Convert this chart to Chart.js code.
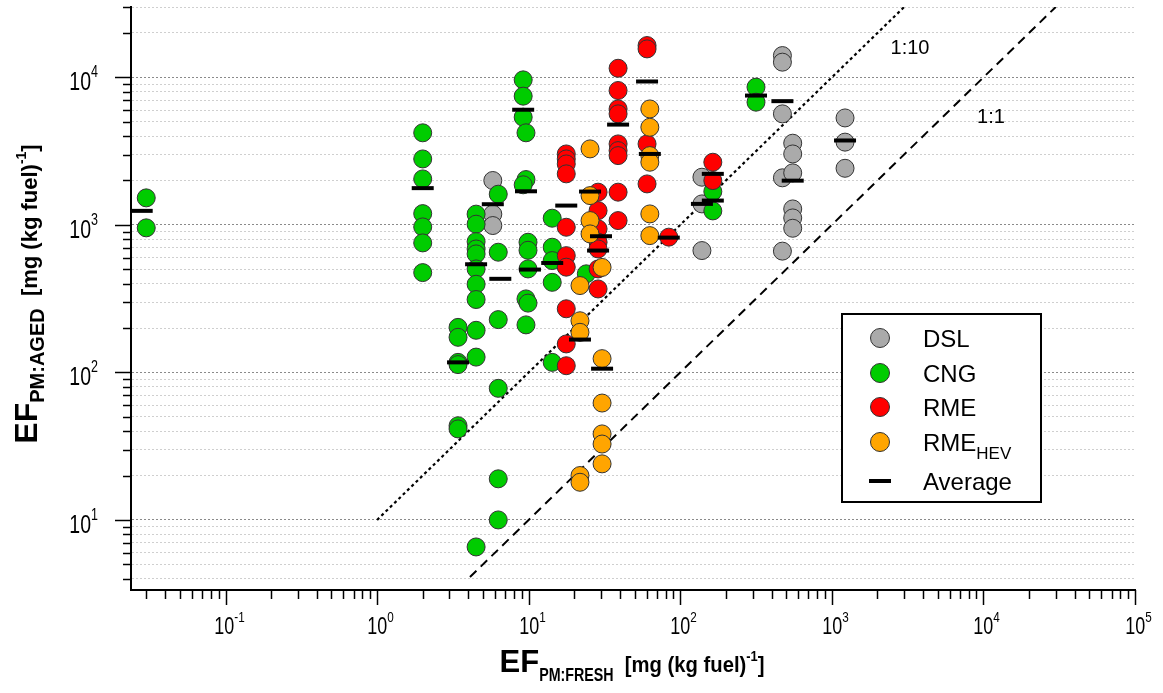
<!DOCTYPE html>
<html lang="en">
<head>
  <meta charset="UTF-8">
  <title>EF PM aged vs fresh</title>
  <script src="https://cdn.jsdelivr.net/npm/chart.js"></script>
  <style>
    body { margin: 0; background: #fff; }
    #wrap { width: 1163px; height: 693px; }
  </style>
</head>
<body>
  <div id="wrap"><canvas id="efChart" width="1163" height="693"></canvas></div>

  <script>
    // EF fresh (x) / EF aged (y), mg (kg fuel)^-1
    const dslFresh = [5.8, 5.8, 5.8, 139, 139, 139, 472, 472, 472, 472, 472, 552, 552, 552, 552, 552, 552, 1222, 1222, 1222];
    const dslAged  = [2000, 1183, 990, 2105, 1388, 670, 14060, 12680, 5660, 2085, 664, 3580, 3027, 2253, 1283, 1115, 949, 5310, 3640, 2420];

    const cngFresh = [0.03, 0.03,
      2, 2, 2, 2, 2, 2, 2,
      3.42, 3.42, 3.42, 3.42, 3.42, 3.42,
      4.5, 4.5, 4.5, 4.5, 4.5, 4.5, 4.5, 4.5, 4.5, 4.5, 4.5,
      6.3, 6.3, 6.3, 6.3, 6.3, 6.3,
      9.2, 9.2, 9.2, 9.6, 9.6, 9.2, 9.9, 9.9, 9.9, 9.6, 9.9, 9.6,
      14.3, 14.3, 14.3, 14.3, 14.3,
      24, 164, 164, 316, 316];
    const cngAged = [1525, 955,
      4210, 2800, 2050, 1193, 969, 755, 475,
      202, 173, 117, 113, 43.5, 41.4,
      1183, 1011, 770, 687, 636, 503, 396, 312, 193, 127, 6.56,
      1615, 653, 228, 78, 19, 10,
      9620, 7460, 5370, 4210, 2030, 1870, 763, 673, 503, 315, 295, 210,
      1110, 706, 573, 408, 117,
      466, 1683, 1244, 8590, 6790];

    const rmeFresh = [17.7, 17.7, 17.7, 17.7, 17.7, 17.7, 17.7, 17.7, 17.7, 17.7,
      28.7, 28.7, 28.7, 28.7, 28.7, 28.7, 28.7,
      38.9, 38.9, 38.9, 38.9, 38.9, 38.9, 38.9, 38.9, 38.9,
      60.4, 60.4, 60.4, 60.4, 84, 164, 164];
    const rmeAged = [3027, 2800, 2590, 2218, 964, 619, 517, 270, 156, 111,
      1667, 1250, 940, 763, 687, 503, 368,
      11530, 8150, 6110, 5660, 3540, 3190, 2950, 1667, 1070,
      16440, 15600, 3540, 1896, 826, 2660, 1997];

    const hevFresh = [25.4, 25.4, 25.4, 25.4, 21.8, 21.8, 21.8, 21.8, 21.8,
      30.5, 30.5, 30.5, 30.5, 30.5, 30.5, 63, 63, 63, 63, 63, 63];
    const hevAged = [3275, 1580, 1070, 869, 388, 224, 187, 20, 18,
      515, 124, 62, 38.3, 32.7, 24, 6110, 4590, 2950, 2660, 1187, 846];

    const avgFresh = [0.028, 2, 3.42, 4.5, 5.8, 6.5, 9.2, 9.6, 10.2, 14.3, 17.7, 25.4, 21.8, 28.7, 30, 30.5, 38.9, 60.4, 63, 84, 139, 164, 164, 316, 472, 552, 1222];
    const avgAged  = [1245, 1775, 117, 541, 1381, 431, 6035, 1690, 498, 552, 1352, 1683, 167, 670, 838, 106, 4786, 9380, 3027, 820, 1388, 1462, 2218, 7530, 6900, 1995, 3735];

    // reference lines and their labels
    const line10Fresh = [1, 3000], line10Aged = [10, 30000];
    const line1Fresh = [4.1, 30000], line1Aged = [4.1, 30000];
    const refLabels = [{ text: '1:10', x: 3280, y: 15600 }, { text: '1:1', x: 11220, y: 5310 }];

    const xTickValues = [];
    for (let e = -2; e <= 5; e++) for (let m = 1; m <= 9; m++) {
      const v = m * Math.pow(10, e);
      if (v >= 0.025 && v <= 1e5 * 1.0001) xTickValues.push(+v.toPrecision(3));
    }
    const yTickValues = [];
    for (let e = 0; e <= 4; e++) for (let m = 1; m <= 9; m++) {
      const v = m * Math.pow(10, e);
      if (v >= 3.4 && v <= 30000) yTickValues.push(v);
    }

    const isPow10 = v => Math.abs(Math.log10(v) - Math.round(Math.log10(v))) < 1e-9;
    const zip = (xs, ys) => xs.map((x, i) => ({ x, y: ys[i] }));

    const grey = '#aaaaaa', green = '#00cc00', red = '#ff0000', orange = '#ffa500';

    function pointSet(label, xs, ys, color, order) {
      return {
        label, data: zip(xs, ys), order,
        pointRadius: 9, pointBackgroundColor: color,
        pointBorderColor: '#333', pointBorderWidth: 1
      };
    }

    // draw a sequence of text runs (with sub/superscripts)
    function drawRuns(ctx, runs, x, y, align) {
      let total = 0;
      runs.forEach(r => { ctx.font = r.font; r.w = ctx.measureText(r.text).width * (r.sx || 1); total += r.w; });
      let cx = align === 'center' ? x - total / 2 : align === 'right' ? x - total : x;
      runs.forEach(r => {
        ctx.save();
        ctx.font = r.font;
        ctx.translate(cx, y + (r.dy || 0));
        ctx.scale(r.sx || 1, 1);
        ctx.fillText(r.text, 0, 0);
        ctx.restore();
        cx += r.w;
      });
    }

    const FONT = '"Liberation Sans", Arial, sans-serif';

    const overlay = {
      id: 'overlay',
      afterDraw(chart) {
        const { ctx, chartArea: a, scales: { x, y } } = chart;
        ctx.save();
        ctx.strokeStyle = '#000';
        ctx.fillStyle = '#000';
        ctx.lineWidth = 1.5;
        ctx.textBaseline = 'alphabetic';

        // x ticks and labels
        x.ticks.forEach(t => {
          const px = Math.round(x.getPixelForValue(t.value)) + 0.5;
          ctx.beginPath();
          ctx.moveTo(px, a.bottom);
          ctx.lineTo(px, a.bottom + (t.major ? 15 : 9));
          ctx.stroke();
          if (t.major) {
            const e = Math.round(Math.log10(t.value));
            drawRuns(ctx, [
              { text: '10', font: '23px ' + FONT, sx: 0.78 },
              { text: String(e), font: '15px ' + FONT, sx: 0.78, dy: -12 }
            ], px + 3, a.bottom + 44, 'center');
          }
        });

        // y ticks and labels
        y.ticks.forEach(t => {
          const py = Math.round(y.getPixelForValue(t.value)) + 0.5;
          ctx.beginPath();
          ctx.moveTo(a.left, py);
          ctx.lineTo(a.left - (t.major ? 16 : 8), py);
          ctx.stroke();
          if (t.major) {
            const e = Math.round(Math.log10(t.value));
            drawRuns(ctx, [
              { text: '10', font: '25px ' + FONT, sx: 0.78 },
              { text: String(e), font: '16px ' + FONT, sx: 0.78, dy: -13 }
            ], a.left - 33, py + 12, 'right');
          }
        });

        // reference line labels
        ctx.font = '20px ' + FONT;
        ctx.textAlign = 'center';
        ctx.textBaseline = 'middle';
        refLabels.forEach(l => ctx.fillText(l.text, x.getPixelForValue(l.x), y.getPixelForValue(l.y)));
        ctx.textAlign = 'left';
        ctx.textBaseline = 'alphabetic';

        // axis titles
        drawRuns(ctx, [
          { text: 'EF', font: 'bold 31px ' + FONT },
          { text: 'PM:FRESH', font: 'bold 19px ' + FONT, dy: 9, sx: 0.75 },
          { text: '  [mg (kg fuel)', font: 'bold 22px ' + FONT, sx: 0.92 },
          { text: '-1', font: 'bold 14px ' + FONT, dy: -11, sx: 0.92 },
          { text: ']', font: 'bold 22px ' + FONT, sx: 0.92 }
        ], 632, 672, 'center');

        ctx.save();
        ctx.translate(37, 294);
        ctx.rotate(-Math.PI / 2);
        drawRuns(ctx, [
          { text: 'EF', font: 'bold 32px ' + FONT },
          { text: 'PM:AGED', font: 'bold 20px ' + FONT, dy: 7 },
          { text: '  [mg (kg fuel)', font: 'bold 22px ' + FONT },
          { text: '-1', font: 'bold 14px ' + FONT, dy: -11 },
          { text: ']', font: 'bold 22px ' + FONT }
        ], 0, 0, 'center');
        ctx.restore();

        // legend
        ctx.fillStyle = '#fff';
        ctx.fillRect(842, 314, 199, 188);
        ctx.lineWidth = 2;
        ctx.strokeRect(842, 314, 199, 188);
        const items = [['DSL', grey], ['CNG', green], ['RME', red], ['RME', orange, 'HEV'], ['Average', null]];
        const rows = [338, 373, 407, 442, 481];
        items.forEach((it, i) => {
          const cy = rows[i];
          if (it[1]) {
            ctx.beginPath();
            ctx.arc(880, cy, 9.5, 0, Math.PI * 2);
            ctx.fillStyle = it[1];
            ctx.fill();
            ctx.lineWidth = 1;
            ctx.strokeStyle = '#333';
            ctx.stroke();
          } else {
            ctx.lineWidth = 4;
            ctx.strokeStyle = '#000';
            ctx.beginPath();
            ctx.moveTo(869, cy); ctx.lineTo(891, cy);
            ctx.stroke();
          }
          ctx.fillStyle = '#000';
          const runs = [{ text: it[0], font: '24px ' + FONT }];
          if (it[2]) runs.push({ text: it[2], font: '17px ' + FONT, dy: 8 });
          drawRuns(ctx, runs, 923, cy + 9, 'left');
        });
        ctx.restore();
      }
    };

    new Chart(document.getElementById('efChart').getContext('2d'), {
      type: 'scatter',
      data: {
        datasets: [
          {
            label: 'Average', data: zip(avgFresh, avgAged), order: 0,
            pointStyle: 'line', pointRadius: 11, pointBorderWidth: 4, pointBorderColor: '#000'
          },
          pointSet('RMEHEV', hevFresh, hevAged, orange, 1),
          pointSet('RME', rmeFresh, rmeAged, red, 2),
          pointSet('CNG', cngFresh, cngAged, green, 3),
          pointSet('DSL', dslFresh, dslAged, grey, 4),
          {
            label: '1:10', data: zip(line10Fresh, line10Aged), order: 5, showLine: true,
            pointRadius: 0, borderColor: '#000', borderWidth: 2.2, borderDash: [3, 3]
          },
          {
            label: '1:1', data: zip(line1Fresh, line1Aged), order: 5, showLine: true,
            pointRadius: 0, borderColor: '#000', borderWidth: 2, borderDash: [9, 6]
          }
        ]
      },
      options: {
        responsive: false,
        animation: false,
        layout: { autoPadding: false, padding: { left: 131, top: 7, right: 28, bottom: 103 } },
        plugins: { legend: { display: false }, tooltip: { enabled: false } },
        scales: {
          x: {
            type: 'logarithmic', min: 0.0238, max: 100000,
            afterBuildTicks: s => { s.ticks = xTickValues.map(v => ({ value: v, major: isPow10(v) })); },
            ticks: { display: false },
            grid: { drawOnChartArea: false, drawTicks: false },
            border: { color: '#000', width: 2 }
          },
          y: {
            type: 'logarithmic', min: 3.35, max: 30000,
            afterBuildTicks: s => { s.ticks = yTickValues.map(v => ({ value: v, major: isPow10(v) })); },
            ticks: { display: false },
            grid: {
              drawTicks: false, lineWidth: 1,
              color: c => (c.tick && c.tick.major) ? '#8a8a8a' : '#cfcfcf'
            },
            border: { color: '#000', width: 2, dash: [2, 2] }
          }
        }
      },
      plugins: [overlay]
    });
  </script>
</body>
</html>
